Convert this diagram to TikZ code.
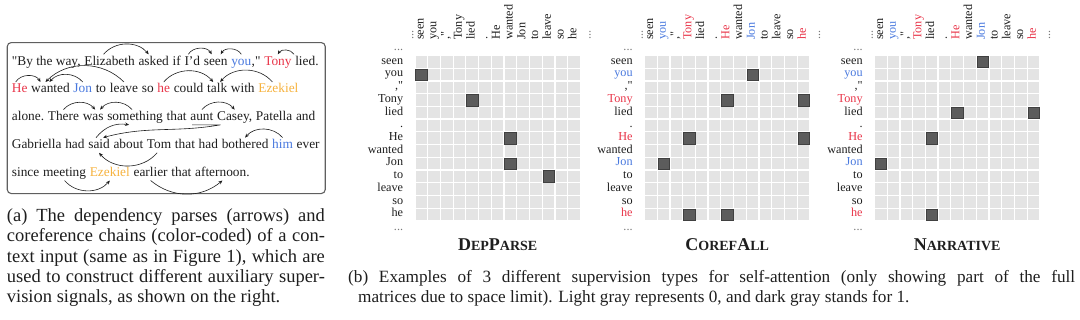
\documentclass[tikz,border=0pt]{standalone}
\usepackage{fontspec}
\setmainfont{Liberation Serif}[Ligatures=TeXOff]
\usetikzlibrary{positioning,arrows.meta}
\definecolor{cred}{RGB}{232,52,72}
\definecolor{cblue}{RGB}{72,120,222}
\definecolor{corange}{RGB}{246,178,62}
\definecolor{cellL}{RGB}{228,228,228}
\definecolor{cellD}{RGB}{92,92,92}
\definecolor{frameC}{RGB}{95,95,95}
\definecolor{txt}{RGB}{30,30,30}
\newcommand\pitch{12.72}
\newcommand\gtop{55.5}
\newcommand\attgrid[2]{%
  \foreach \rr in {1,...,13}{\foreach \cc in {1,...,13}{%
    \fill[cellL] ({#1+(\cc-1)*\pitch+0.6},{\gtop+(\rr-1)*\pitch+0.6}) rectangle ++(11.5,11.5);}}%
  \foreach \rr/\cc in {#2}{%
    \fill[cellD,draw=black!75,line width=0.4pt] ({#1+(\cc-1)*\pitch+0.6},{\gtop+(\rr-1)*\pitch+0.6}) rectangle ++(11.5,11.5);}%
}
\newcommand\gridlabels[4]{%
  \foreach \lab/\lcol [count=\i] in {seen/txt,you/#3,{,"}/txt,Tony/#4,lied/txt,./txt,He/#4,wanted/txt,Jon/#3,to/txt,leave/txt,so/txt,he/#4}{%
    \node[rowlab,text=\lcol] (#1r\i) at ({#2-11.7},{\gtop+(\i-0.5)*\pitch}) {\lab};
    \node[collab,text=\lcol] (#1c\i) at ({#2+(\i-0.5)*\pitch},40) {\lab};
  }
  \node[rowlab,text=txt!60] (#1rtop) at ({#2-11.7},{\gtop-0.5*\pitch-1}) {...};
  \node[rowlab,text=txt!60] (#1rbot) at ({#2-11.7},{\gtop+13.5*\pitch+1}) {...};
  \node[collab,text=txt!60] (#1ctop) at ({#2-4},40) {...};
  \node[collab,text=txt!60] (#1cend) at ({#2+13*\pitch+8},40) {...};
}
\newcommand\BigL[1]{{\fontsize{18}{18}\selectfont #1}}
\begin{document}
\begin{tikzpicture}[x=1pt,y=-1pt,
  w/.style={anchor=base west,inner xsep=0pt,inner ysep=1.5pt,text height=9pt,text depth=2.8pt,
    font=\fontsize{13.35}{16}\selectfont,text=txt},
  node distance=3.34pt,
  dep/.style={-{Stealth[length=4pt,width=3.4pt]},line width=0.6pt,draw=txt},
  rowlab/.style={anchor=mid east,inner sep=0pt,font=\fontsize{12.2}{12.2}\selectfont},
  collab/.style={rowlab,anchor=mid west,rotate=90},
  title/.style={inner sep=0pt,font=\bfseries\fontsize{14}{14}\selectfont,text=txt},
  captxt/.style={anchor=base west,inner sep=0pt,font=\fontsize{18.5}{20.4}\selectfont,text=txt},
  captxtb/.style={captxt,font=\fontsize{17.2}{20.4}\selectfont}]
\useasboundingbox (0,0) rectangle (1080,319);
% frame
\node[draw=frameC,line width=1.1pt,rounded corners=4pt,minimum width=318pt,minimum height=151pt,
  anchor=north west,inner sep=0pt] (frame) at (6.7,42) {};
% line 1
\node[w] (l1a) at (11.7,65) {"By the way,};
\node[w,base right=of l1a] (eliz) {Elizabeth};
\node[w,base right=of eliz] (asked) {asked};
\node[w,base right=of asked] (if) {if};
\node[w,base right=of if] (id) {I’d};
\node[w,base right=of id] (seen) {seen};
\node[w,base right=of seen] (you) {\textcolor{cblue}{you}};
\node[w,anchor=base west] (youp) at (you.base east) {,"};
\node[w,base right=of youp] (tony) {\textcolor{cred}{Tony}};
\node[w,base right=of tony] (lied) {lied.};
% line 2
\node[w] (he2) at (11.7,92.7) {\textcolor{cred}{He}};
\node[w,base right=of he2] (wanted) {wanted};
\node[w,base right=of wanted] (jon) {\textcolor{cblue}{Jon}};
\node[w,base right=of jon] (to) {to};
\node[w,base right=of to] (leave) {leave};
\node[w,base right=of leave] (so) {so};
\node[w,base right=of so] (hel) {\textcolor{cred}{he}};
\node[w,base right=of hel] (could) {could};
\node[w,base right=of could] (talk) {talk};
\node[w,base right=of talk] (with) {with};
\node[w,base right=of with] (ezek1) {\textcolor{corange}{Ezekiel}};
% line 3
\node[w] (alone) at (11.7,120.3) {alone.};
\node[w,base right=of alone] (there) {There};
\node[w,base right=of there] (was) {was};
\node[w,base right=of was] (something) {something};
\node[w,base right=of something] (that1) {that};
\node[w,base right=of that1] (aunt) {aunt};
\node[w,base right=of aunt] (casey) {Casey,};
\node[w,base right=of casey] (patella) {Patella};
\node[w,base right=of patella] (and) {and};
% line 4
\node[w] (gab) at (11.7,148.3) {Gabriella};
\node[w,base right=of gab] (had1) {had};
\node[w,base right=of had1] (said) {said};
\node[w,base right=of said] (about) {about};
\node[w,base right=of about] (tom) {Tom};
\node[w,base right=of tom] (that2) {that};
\node[w,base right=of that2] (had2) {had};
\node[w,base right=of had2] (bothered) {bothered};
\node[w,base right=of bothered] (him) {\textcolor{cblue}{him}};
\node[w,base right=of him] (ever) {ever};
% line 5
\node[w] (since) at (11.7,176) {since};
\node[w,base right=of since] (meeting) {meeting};
\node[w,base right=of meeting] (ezek2) {\textcolor{corange}{Ezekiel}};
\node[w,base right=of ezek2] (earlier) {earlier};
\node[w,base right=of earlier] (that3) {that};
\node[w,base right=of that3] (afternoon) {afternoon.};
% arcs
\draw[dep] ([xshift=-6]eliz.north) to[bend left=50] ([xshift=-5]asked.north);
\draw[dep] ([xshift=-4]id.north) to[bend left=60] ([xshift=-4]seen.north);
\draw[dep] (you.north) to[bend right=60] ([xshift=5]seen.north);
\draw[dep] ([xshift=-1]lied.north west) to[bend right=60] (tony.north);
\draw[dep] ([xshift=-4]he2.north) to[bend left=60] ([xshift=-10]wanted.north);
\draw[dep] (jon.north) to[bend right=50] ([xshift=-1]wanted.north);
\draw[dep] (leave.north) to[bend right=45] ([xshift=-5]wanted.north);
\draw[dep] (hel.north) to[bend left=50] ([xshift=-4]talk.north);
\draw[dep] ([xshift=-6]ezek1.north) to[bend right=50] ([xshift=3]talk.north);
\draw[dep] (there.north) to[bend left=50] ([xshift=2]was.north);
\draw[dep] ([xshift=-3]something.north) to[bend right=50] ([xshift=7]was.north);
\draw[dep] (aunt.north) to[bend left=50] (casey.north);
\draw[dep] ([xshift=2]aunt.south west) -- ([xshift=-14]casey.south) to[out=190,in=15] ([xshift=4]said.north);
\draw[dep] ([xshift=-3]said.north) to[bend left=30] ([xshift=-6]something.south);
\draw[dep] (him.north) to[bend right=50] (bothered.north);
\draw[dep] ([xshift=-2]tom.south) to[bend left=50] (said.south);
\draw[dep] (meeting.south) to[bend right=50] (ezek2.south);
\draw[dep] (earlier.south) to[bend right=40] (afternoon.south);
% captions
\node[captxt] (ca1) at (6.7,221.7) {\makebox[318pt][s]{(a) The dependency parses (arrows) and}};
\node[captxt] (ca2) at (6.7,241.9) {\makebox[318pt][s]{coreference chains (color-coded) of a con-}};
\node[captxt] (ca3) at (6.7,262.2) {\makebox[318pt][s]{text input (same as in Figure 1), which are}};
\node[captxt] (ca4) at (6.7,282.5) {\makebox[318pt][s]{used to construct different auxiliary super-}};
\node[captxt] (ca5) at (6.7,302.8) {vision signals, as shown on the right.};
\node[captxtb] (cb1) at (348,282.5) {\makebox[727pt][s]{(b) Examples of 3 different supervision types for self-attention (only showing part of the full}};
\node[captxtb] (cb2) at (358,302.8) {matrices due to space limit). Light gray represents 0, and dark gray stands for 1.};
% grids
\attgrid{415}{2/1,4/5,7/8,9/8,10/11}
\attgrid{644.5}{2/9,4/7,4/13,7/4,7/13,9/2,13/4,13/7}
\attgrid{874.5}{1/9,5/7,5/13,7/5,9/1,13/5}
\gridlabels{dp}{415}{txt}{txt}
\gridlabels{cf}{644.5}{cblue}{cred}
\gridlabels{nr}{874.5}{cblue}{cred}
\node[title] (t1) at ({415+6.5*\pitch},245) {\BigL{D}EP\BigL{P}ARSE};
\node[title] (t2) at ({644.5+6.5*\pitch},245) {\BigL{C}OREF\BigL{A}LL};
\node[title] (t3) at ({874.5+6.5*\pitch},245) {\BigL{N}ARRATIVE};
\end{tikzpicture}
\end{document}
